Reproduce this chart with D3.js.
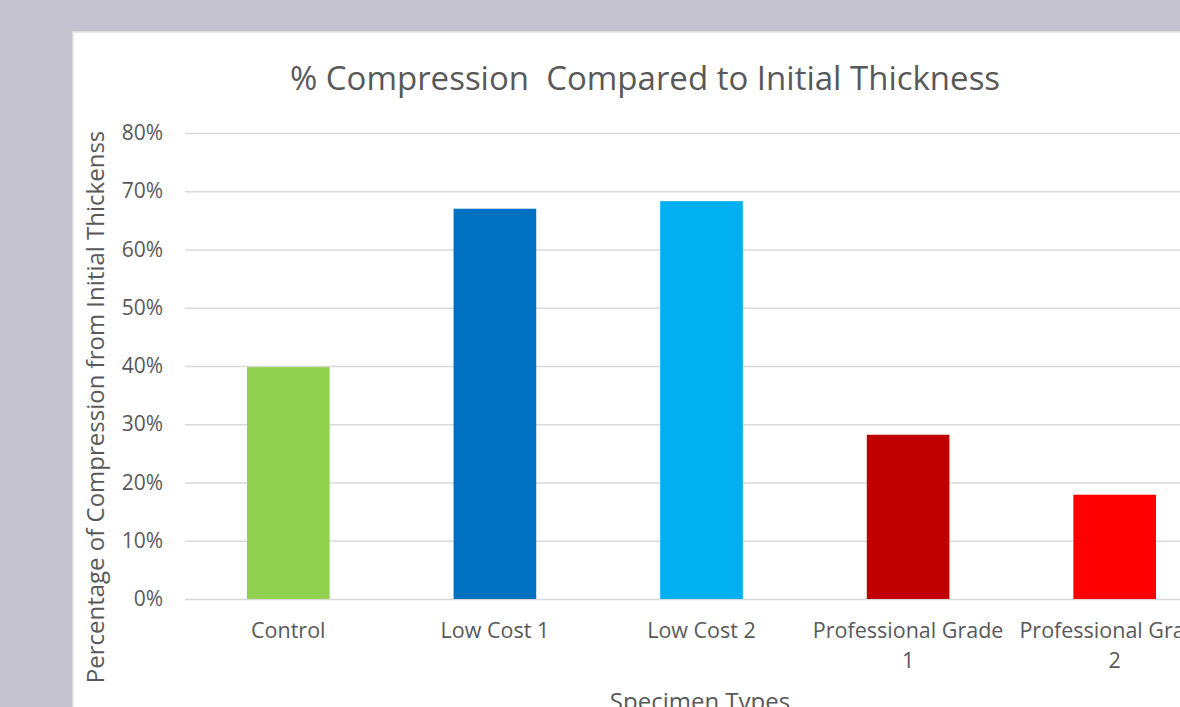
<!DOCTYPE html>
<html>
<head>
<meta charset="utf-8">
<script src="https://cdn.jsdelivr.net/npm/d3@7"></script>
<style>
  html, body { margin: 0; padding: 0; background: #c5c3cf; overflow: hidden; }
  svg { display: block; }
  text { font-family: "Open Sans", sans-serif; fill: #595959; }
</style>
</head>
<body>
<div id="chart"></div>
<script>
const categories = ["Control", "Low Cost 1", "Low Cost 2", "Professional Grade 1", "Professional Grade 2"];
const values = [0.398, 0.670, 0.683, 0.282, 0.179];
const colors = ["#92d050", "#0070c0", "#00b0f0", "#c00000", "#ff0000"];
const yTicks = [0, 0.1, 0.2, 0.3, 0.4, 0.5, 0.6, 0.7, 0.8];

const width = 1180, height = 707;
const svg = d3.select("#chart").append("svg")
  .attr("width", width).attr("height", height);

// white chart card, cropped by the window on the right and bottom
svg.append("rect").attr("x", 73).attr("y", 32).attr("width", width).attr("height", height)
  .attr("fill", "#ffffff").attr("stroke", "#e3e3e3").attr("stroke-width", 1.5);

const x = d3.scaleBand().domain(categories).range([185, 1218]).paddingInner(0.6).paddingOuter(0.3);
const y = d3.scaleLinear().domain([0, 0.8]).range([599, 133]);

// gridlines
svg.append("g")
  .attr("transform", "translate(185,0)")
  .call(d3.axisLeft(y).tickValues(yTicks).tickSize(-1100).tickFormat(""))
  .call(g => g.select(".domain").remove())
  .call(g => g.selectAll("line").attr("stroke", "#d9d9d9").attr("stroke-width", 1.6));

// tick labels
svg.append("g")
  .attr("transform", "translate(163,0)")
  .call(d3.axisLeft(y).tickValues(yTicks).tickSize(0).tickPadding(0).tickFormat(d3.format(".0%")))
  .call(g => g.select(".domain").remove())
  .call(g => g.selectAll("text").attr("font-size", 21).attr("fill", "#595959")
    .style("font-family", "'Open Sans', sans-serif"));

// bars
svg.append("g")
  .selectAll("rect")
  .data(categories)
  .join("rect")
  .attr("x", d => x(d))
  .attr("width", x.bandwidth())
  .attr("y", (d, i) => y(values[i]))
  .attr("height", (d, i) => y(0) - y(values[i]))
  .attr("fill", (d, i) => colors[i]);

// category labels, wrapped like the original
const wrap = d => d.startsWith("Professional") ? ["Professional Grade", d.slice(-1)] : [d];
svg.append("g")
  .attr("font-size", 21.5)
  .attr("text-anchor", "middle")
  .selectAll("text")
  .data(categories)
  .join("text")
  .attr("x", d => x(d) + x.bandwidth() / 2)
  .attr("y", 638)
  .selectAll("tspan")
  .data(d => wrap(d).map(t => ({ t, cx: x(d) + x.bandwidth() / 2 })))
  .join("tspan")
  .attr("x", d => d.cx)
  .attr("dy", (d, i) => i ? 30 : 0)
  .text(d => d.t);

// titles
svg.append("text")
  .attr("x", 645).attr("y", 90)
  .attr("text-anchor", "middle")
  .attr("font-size", 33)
  .style("white-space", "pre")
  .text("% Compression  Compared to Initial Thickness");

svg.append("text")
  .attr("x", 700).attr("y", 710)
  .attr("text-anchor", "middle")
  .attr("font-size", 24)
  .text("Specimen Types");

svg.append("text")
  .attr("transform", "translate(104,407) rotate(-90)")
  .attr("text-anchor", "middle")
  .attr("font-size", 24)
  .text("Percentage of Compression from Initial Thickenss");
</script>
</body>
</html>
